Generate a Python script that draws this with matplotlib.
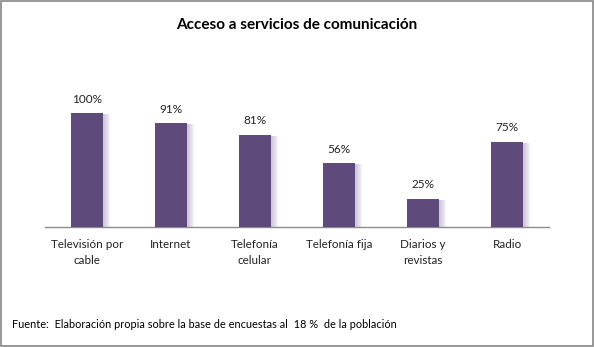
import matplotlib.pyplot as plt
from matplotlib.patches import Rectangle

categorias = ["Televisión por\ncable", "Internet", "Telefonía\ncelular",
              "Telefonía fija", "Diarios y\nrevistas", "Radio"]
valores = [100, 91, 81, 56, 25, 75]
etiquetas = ["100%", "91%", "81%", "56%", "25%", "75%"]

titulo = "Acceso a servicios de comunicación"
fuente = "Fuente:  Elaboración propia sobre la base de encuestas al  18 %  de la población"

color_barra = "#5F4B7B"
plt.rcParams['font.family'] = ['Lato', 'DejaVu Sans']

fig = plt.figure(figsize=(5.94, 3.47), dpi=100)
ax = fig.add_axes([45 / 594, 1 - 227 / 347, 504 / 594, 142 / 347])

x = list(range(len(categorias)))
ancho = 0.39
px = 1 / 84.0

# sombra difusa a la derecha de cada barra
for i in range(1, 8):
    ax.bar([xi + i * px for xi in x], [v - 1.0 for v in valores], width=ancho,
           color="#b8a9cc", alpha=0.13, zorder=1, linewidth=0)

ax.bar(x, valores, width=ancho, color=color_barra, zorder=3, linewidth=0)

for xi, v, t in zip(x, valores, etiquetas):
    ax.annotate(t, (xi, v), xytext=(0, 10), textcoords="offset points",
                ha="center", va="center", fontsize=8.5, color="#222222")

ax.set_xlim(-0.5, 5.5)
ax.set_ylim(0, 124.6)
ax.set_xticks(x)
ax.set_xticklabels(categorias, fontsize=8.4, linespacing=1.45, color="#222222")
ax.tick_params(axis="x", length=0, pad=9)
ax.set_yticks([])
for s in ["top", "right", "left"]:
    ax.spines[s].set_visible(False)
ax.spines["bottom"].set_color("#8c8c8c")
ax.spines["bottom"].set_linewidth(1.0)

fig.text(0.5, 1 - 25 / 347, titulo, ha="center", va="center",
         fontsize=11, fontweight="bold", color="black")
fig.text(12 / 594, 1 - 325 / 347, fuente, ha="left", va="center",
         fontsize=7.9, color="black")

fig.patches.append(Rectangle((0.001, 0.002), 0.997, 0.995, transform=fig.transFigure,
                             fill=False, edgecolor="#868686", linewidth=1.2))

fig.savefig("out.png", dpi=100)
